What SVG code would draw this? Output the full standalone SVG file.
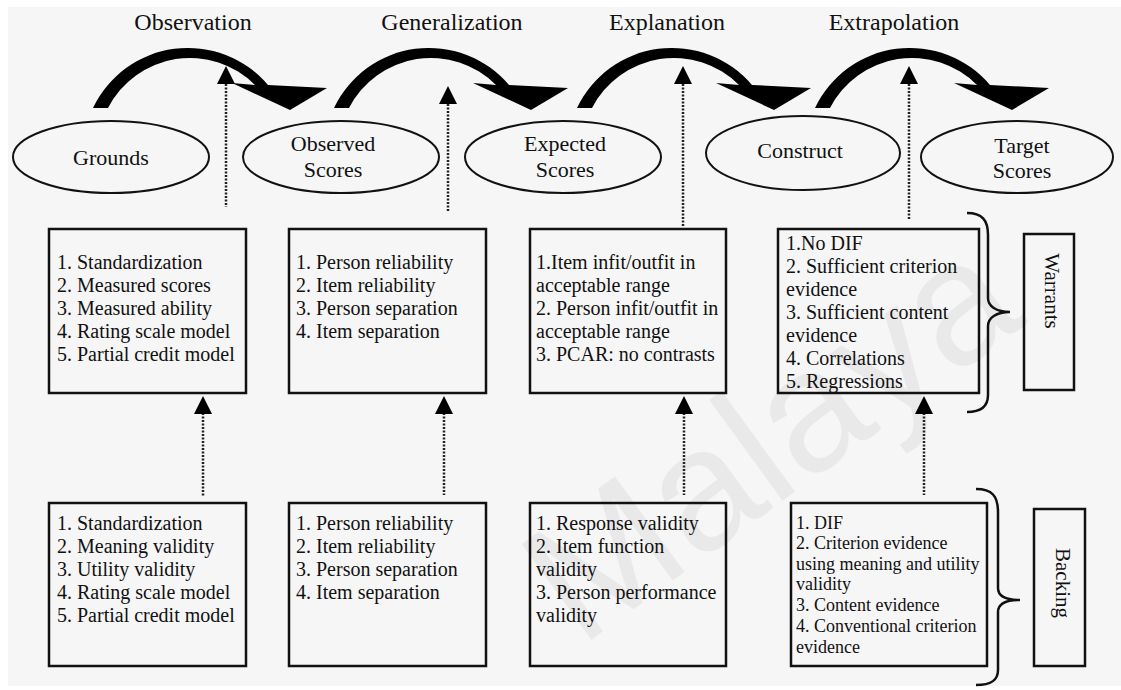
<svg xmlns="http://www.w3.org/2000/svg" width="1121" height="690" viewBox="0 0 1121 690">
<style>
.t{font-family:"Liberation Serif","Times New Roman",serif;fill:#111;}
.title{font-size:24px;text-anchor:middle;}
.el{font-size:22px;text-anchor:middle;}
.bx{font-size:20px;}
.sm{font-size:18px;}
.box{fill:none;stroke:#111;stroke-width:2.5;}
.ell{fill:none;stroke:#111;stroke-width:2;}
.dot{stroke:#222;stroke-width:2.5;stroke-dasharray:2 1.5;fill:none;}
.brace{fill:none;stroke:#111;stroke-width:2.5;}
.wm{font-family:"Liberation Sans",Arial,sans-serif;font-size:172px;fill:#e9e9e9;}
</style>
<defs>
<path id="carrow" d="M93,108 A105,105 0 0 1 268,85 L327,88 L290,110 L232,83 L255,85 A92,92 0 0 0 108,108 Z" fill="#000"/>
<polygon id="ah" points="0,0 -9,18 9,18" fill="#000"/>
</defs>
<rect x="0" y="0" width="1121" height="690" fill="#fff"/>
<rect x="8" y="7" width="1113" height="679" fill="#f6f6f6"/>
<text class="wm" transform="translate(580,648) rotate(-36)">Malaya</text>

<g id="titles">
<text class="t title" x="193" y="30">Observation</text>
<text class="t title" x="452" y="30">Generalization</text>
<text class="t title" x="667" y="30">Explanation</text>
<text class="t title" x="894" y="30">Extrapolation</text>
</g>

<g id="connectors">
<use href="#carrow"/>
<use href="#carrow" transform="translate(241,0)"/>
<use href="#carrow" transform="translate(484,0)"/>
<use href="#carrow" transform="translate(722,0)"/>
<line class="dot" x1="226" y1="84" x2="226" y2="207"/>
<use href="#ah" transform="translate(226,66)"/>
<line class="dot" x1="448" y1="104" x2="448" y2="211"/>
<use href="#ah" transform="translate(448,86)"/>
<line class="dot" x1="683" y1="84" x2="683" y2="226"/>
<use href="#ah" transform="translate(683,66)"/>
<line class="dot" x1="909" y1="84" x2="909" y2="220"/>
<use href="#ah" transform="translate(909,66)"/>
<line class="dot" x1="203" y1="413" x2="203" y2="497"/>
<use href="#ah" transform="translate(203,396)"/>
<line class="dot" x1="444" y1="413" x2="444" y2="495"/>
<use href="#ah" transform="translate(444,396)"/>
<line class="dot" x1="684" y1="413" x2="684" y2="495"/>
<use href="#ah" transform="translate(684,396)"/>
<line class="dot" x1="924" y1="413" x2="924" y2="495"/>
<use href="#ah" transform="translate(924,396)"/>
</g>

<g id="grounds"><ellipse class="ell" cx="111" cy="157" rx="98" ry="36"/><text class="t el" x="111" y="165">Grounds</text></g>
<g id="observed"><ellipse class="ell" cx="341" cy="157" rx="98" ry="36"/><text class="t el" x="333" y="151">Observed</text><text class="t el" x="333" y="177">Scores</text></g>
<g id="expected"><ellipse class="ell" cx="563" cy="157" rx="98" ry="36"/><text class="t el" x="565" y="151">Expected</text><text class="t el" x="565" y="177">Scores</text></g>
<g id="construct"><ellipse class="ell" cx="803" cy="153" rx="97" ry="37"/><text class="t el" x="800" y="158">Construct</text></g>
<g id="target"><ellipse class="ell" cx="1017" cy="157" rx="96" ry="36"/><text class="t el" x="1022" y="153">Target</text><text class="t el" x="1022" y="178">Scores</text></g>

<g id="w1"><rect class="box" x="49" y="229" width="197" height="164"/>
<text class="t bx" x="57" y="269">1. Standardization</text>
<text class="t bx" x="57" y="292">2. Measured scores</text>
<text class="t bx" x="57" y="315">3. Measured ability</text>
<text class="t bx" x="57" y="338">4. Rating scale model</text>
<text class="t bx" x="57" y="361">5. Partial credit model</text></g>

<g id="w2"><rect class="box" x="289" y="229" width="197" height="164"/>
<text class="t bx" x="296" y="269">1. Person reliability</text>
<text class="t bx" x="296" y="292">2. Item reliability</text>
<text class="t bx" x="296" y="315">3. Person separation</text>
<text class="t bx" x="296" y="338">4. Item separation</text></g>

<g id="w3"><rect class="box" x="530" y="229" width="196" height="164"/>
<text class="t bx" x="536" y="269">1.Item infit/outfit in</text>
<text class="t bx" x="536" y="292">acceptable range</text>
<text class="t bx" x="536" y="315">2. Person infit/outfit in</text>
<text class="t bx" x="536" y="338">acceptable range</text>
<text class="t bx" x="536" y="361">3. PCAR: no contrasts</text></g>

<g id="w4"><rect class="box" x="778" y="229" width="201" height="164"/>
<text class="t bx" x="786" y="250">1.No DIF</text>
<text class="t bx" x="786" y="273">2. Sufficient criterion</text>
<text class="t bx" x="786" y="296">evidence</text>
<text class="t bx" x="786" y="319">3. Sufficient content</text>
<text class="t bx" x="786" y="342">evidence</text>
<text class="t bx" x="786" y="365">4. Correlations</text>
<text class="t bx" x="786" y="388">5. Regressions</text></g>

<g id="warrants"><rect class="box" x="1024" y="234" width="50" height="156"/>
<text class="t" font-size="21" text-anchor="middle" dominant-baseline="central" transform="translate(1052,291) rotate(90)">Warrants</text>
<path class="brace" d="M967,213 C982,213 988,220 988,235 L988,298 C988,306 996,312 1010,312 C996,312 988,318 988,326 L988,395 C988,406 982,412 967,412"/></g>

<g id="b1"><rect class="box" x="49" y="503" width="197" height="163"/>
<text class="t bx" x="57" y="530">1. Standardization</text>
<text class="t bx" x="57" y="553">2. Meaning validity</text>
<text class="t bx" x="57" y="576">3. Utility validity</text>
<text class="t bx" x="57" y="599">4. Rating scale model</text>
<text class="t bx" x="57" y="622">5. Partial credit model</text></g>

<g id="b2"><rect class="box" x="289" y="503" width="197" height="163"/>
<text class="t bx" x="296" y="530">1. Person reliability</text>
<text class="t bx" x="296" y="553">2. Item reliability</text>
<text class="t bx" x="296" y="576">3. Person separation</text>
<text class="t bx" x="296" y="599">4. Item separation</text></g>

<g id="b3"><rect class="box" x="530" y="503" width="196" height="163"/>
<text class="t bx" x="536" y="530">1. Response validity</text>
<text class="t bx" x="536" y="553">2. Item function</text>
<text class="t bx" x="536" y="576">validity</text>
<text class="t bx" x="536" y="599">3. Person performance</text>
<text class="t bx" x="536" y="622">validity</text></g>

<g id="b4"><rect class="box" x="791" y="503" width="196" height="163"/>
<text class="t sm" x="796" y="529">1. DIF</text>
<text class="t sm" x="796" y="549">2. Criterion evidence</text>
<text class="t sm" x="796" y="570">using meaning and utility</text>
<text class="t sm" x="796" y="590">validity</text>
<text class="t sm" x="796" y="611">3. Content evidence</text>
<text class="t sm" x="796" y="632">4. Conventional criterion</text>
<text class="t sm" x="796" y="653">evidence</text></g>

<g id="backing"><rect class="box" x="1034" y="509" width="51" height="157"/>
<text class="t" font-size="21" text-anchor="middle" dominant-baseline="central" transform="translate(1063,583) rotate(90)">Backing</text>
<path class="brace" d="M976,489 C992,489 998,496 998,512 L998,588 C998,596 1006,600 1020,600 C1006,600 998,604 998,612 L998,670 C998,680 992,685 976,685"/></g>
</svg>
